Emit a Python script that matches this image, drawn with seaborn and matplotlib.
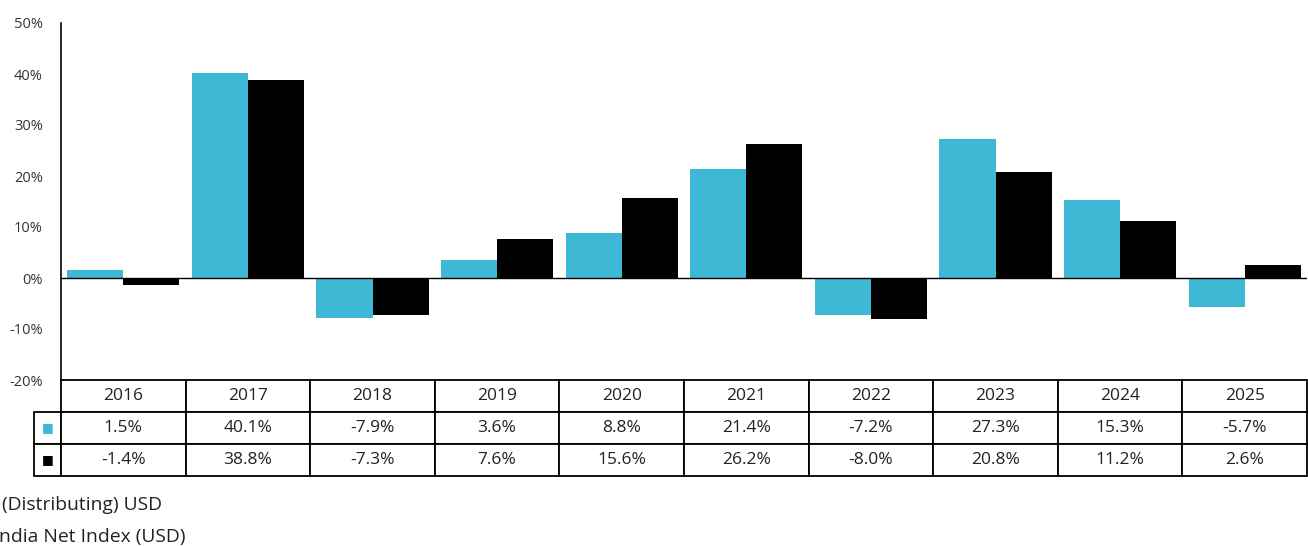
import matplotlib
matplotlib.use("Agg")
import matplotlib.pyplot as plt
import pandas as pd
import seaborn as sns

years = ["2016", "2017", "2018", "2019", "2020", "2021", "2022", "2023", "2024", "2025"]
fund_returns = [1.5, 40.1, -7.9, 3.6, 8.8, 21.4, -7.2, 27.3, 15.3, -5.7]
index_returns = [-1.4, 38.8, -7.3, 7.6, 15.6, 26.2, -8.0, 20.8, 11.2, 2.6]
legend_lines = ["(Distributing) USD", "ndia Net Index (USD)"]

CYAN = "#3EB8D5"
BLACK = "#000000"
W, H = 1308, 546


def main() -> None:
    sns.set_style("white")
    plt.rcParams["font.family"] = ["Open Sans", "DejaVu Sans"]

    df = pd.DataFrame({
        "year": years * 2,
        "value": fund_returns + index_returns,
        "series": ["fund"] * len(years) + ["index"] * len(years),
    })

    fig = plt.figure(figsize=(W / 100, H / 100), dpi=100)
    ax = fig.add_axes([61 / W, (H - 380) / H, (1307 - 61) / W, (380 - 23) / H])

    sns.barplot(data=df, x="year", y="value", hue="series", palette=[CYAN, BLACK],
                width=0.9, saturation=1, linewidth=0, legend=False, ax=ax)

    ax.set_xlim(-0.5, len(years) - 0.5)
    ax.set_ylim(-20, 50)
    ticks = list(range(-20, 51, 10))
    ax.set_yticks(ticks)
    ax.set_yticklabels([f"{t}%" for t in ticks])
    ax.tick_params(axis="y", length=0, pad=13, labelsize=10.5, labelcolor="#333333")
    ax.set_xticks([])
    ax.set_xlabel("")
    ax.set_ylabel("")
    for side in ("top", "right", "bottom"):
        ax.spines[side].set_visible(False)
    ax.spines["left"].set_linewidth(1.2)
    ax.spines["left"].set_color("black")
    ax.axhline(0, color="black", linewidth=1.0, zorder=3)

    ax_h = 380 - 23
    tbl = ax.table(
        cellText=[[f"{v:.1f}%" for v in fund_returns], [f"{v:.1f}%" for v in index_returns]],
        colLabels=years,
        cellLoc="center",
        colWidths=[1 / len(years)] * len(years),
        bbox=[0, -96 / ax_h, 1, 96 / ax_h],
    )
    # marker column to the left of the value rows
    row_h = tbl[1, 0].get_height()
    for r, color in ((1, CYAN), (2, BLACK)):
        cell = tbl.add_cell(r, -1, width=27 / (1307 - 61), height=row_h, text="■", loc="center")
        cell.get_text().set_color(color)
    tbl.auto_set_font_size(False)
    tbl.set_fontsize(12.5)
    for (r, c), cell in tbl.get_celld().items():
        cell.set_linewidth(1.3)
        cell.set_edgecolor("black")
        if c == -1:
            cell.get_text().set_fontsize(9)
        else:
            cell.get_text().set_color("#222222")

    fig.text(2 / W, 1 - 505 / H, legend_lines[0], va="center", ha="left",
             fontsize=13.9, color="#222222")
    fig.text(-1 / W, 1 - 537 / H, legend_lines[1], va="center", ha="left",
             fontsize=13.9, color="#222222")

    fig.savefig("out.png", dpi=100)
    plt.close(fig)


if __name__ == "__main__":
    main()
